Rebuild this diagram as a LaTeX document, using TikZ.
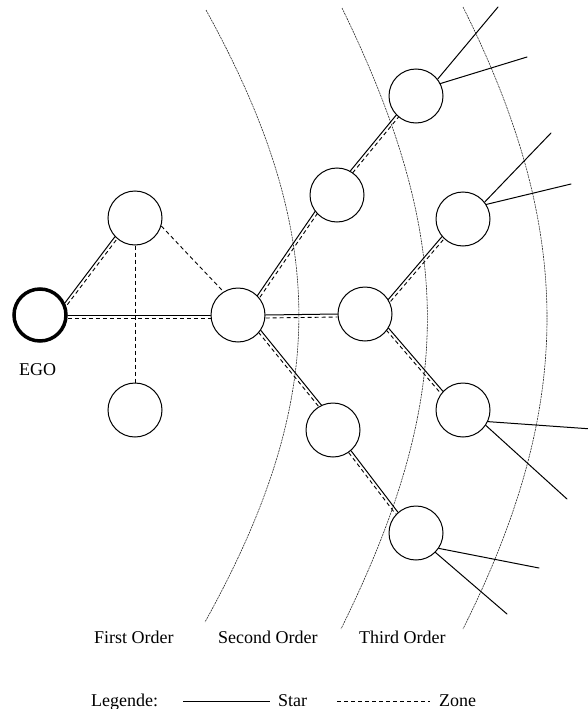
\documentclass[tikz,border=0pt]{standalone}
\usepackage{fontspec}
\setmainfont{Liberation Serif}
\usetikzlibrary{calc,backgrounds}
\newcommand\twoedge[2]{%
  \draw[star] (#1) -- (#2);
  \draw[zone] ($(#1)!3pt!-90:(#2)$) -- ($(#2)!3pt!90:(#1)$);}
\begin{document}
\begin{tikzpicture}[x=1pt,y=-1pt,
  person/.style={circle,draw,fill=white,minimum size=54pt,inner sep=0pt,line width=1pt},
  ego/.style={person,minimum size=52pt,line width=3.5pt},
  star/.style={line width=1pt,line cap=round},
  zone/.style={line width=0.9pt,dash pattern=on 4pt off 3pt},
  ring/.style={line width=0.6pt,dash pattern=on 2pt off 0.8pt,black!85},
  lbl/.style={font=\fontsize{18}{20}\selectfont,inner sep=0pt,anchor=base west}]
\useasboundingbox (0,0) rectangle (588,709);
% nodes
\node[ego] (EGO) at (40,315) {};
\node[person] (A) at (135,218) {};
\node[person] (B) at (135,410) {};
\node[person] (C) at (238,315) {};
\node[person] (D) at (337,195) {};
\node[person] (E) at (416,96) {};
\node[person] (F) at (463,219) {};
\node[person] (G) at (365,314) {};
\node[person] (H) at (463,410) {};
\node[person] (I) at (333,430) {};
\node[person] (J) at (416,533) {};
% free ends
\coordinate (e1) at (498,7);
\coordinate (e2) at (527,57);
\coordinate (f1) at (551,133);
\coordinate (f2) at (571,184);
\coordinate (h1) at (592,429);
\coordinate (h2) at (567,499);
\coordinate (j1) at (539,568);
\coordinate (j2) at (507,614);
\begin{pgfonlayer}{background}
  % order rings
  \draw[ring] (206,10) .. controls (330,235) and (330,397) .. (205,622);
  \draw[ring] (342,8) .. controls (456,242) and (456,396) .. (341,629);
  \draw[ring] (463,7) .. controls (575,231) and (575,405) .. (463,629);
  % edges
  \twoedge{EGO.26}{A.223}
  \twoedge{EGO.0}{C.180}
  \draw[zone] (A.-17) -- (C.122);
  \draw[zone] (A.south) -- (B.north);
  \twoedge{C.45}{D.217}
  \twoedge{C.0}{G.180}
  \twoedge{C.-34}{I.115}
  \twoedge{D.61}{E.224}
  \twoedge{G.32}{F.220}
  \twoedge{G.-31}{H.137}
  \twoedge{I.-49}{J.131}
  \draw[star] (E.38) -- (e1);
  \draw[star] (E.27) -- (e2);
  \draw[star] (F.38) -- (f1);
  \draw[star] (F.32) -- (f2);
  \draw[star] (H.-25) -- (h1);
  \draw[star] (H.-34) -- (h2);
  \draw[star] (J.-34) -- (j1);
  \draw[star] (J.-45) -- (j2);
\end{pgfonlayer}
% labels
\node[lbl] (egol) at (19,375) {EGO};
\node[lbl] (first) at (94,643) {First Order};
\node[lbl] (second) at (218,643) {Second Order};
\node[lbl] (third) at (359,643) {Third Order};
% legend
\node[lbl] (leg) at (91,706) {Legende:};
\node[lbl] (starl) at (278,706) {Star};
\node[lbl] (zonel) at (439,706) {Zone};
\coordinate (s1) at (183,701);
\coordinate (s2) at (270,701);
\coordinate (z1) at (337,701);
\coordinate (z2) at (430,701);
\draw[star,line cap=butt] (s1) -- (s2);
\draw[zone] (z1) -- (z2);
\end{tikzpicture}
\end{document}
